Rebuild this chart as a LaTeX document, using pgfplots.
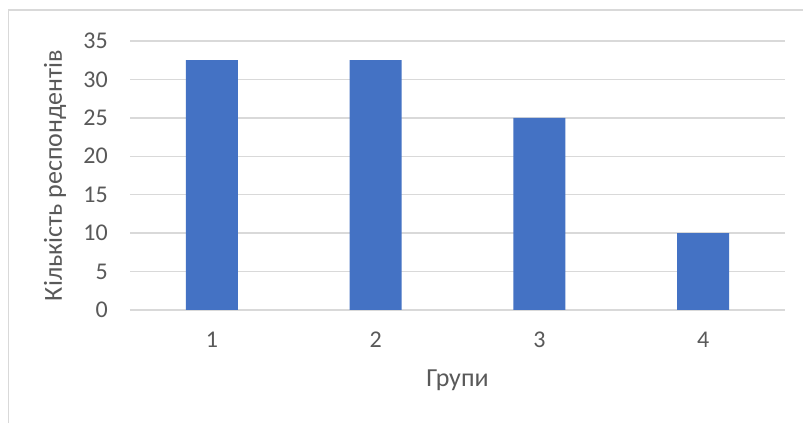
\documentclass[border=0pt]{standalone}
\usepackage{fontspec}
\setmainfont{Carlito}
\usepackage{pgfplots}
\pgfplotsset{compat=1.18}
\definecolor{barblue}{HTML}{4472C4}
\definecolor{gridgray}{HTML}{D9D9D9}
\definecolor{txtgray}{HTML}{595959}
\begin{document}
\begin{tikzpicture}[x=1pt,y=1pt]
\path[use as bounding box, fill=white] (0pt,0pt) rectangle (803pt,423pt);
\draw[gridgray, line width=1.5pt] (8.5pt,0pt) -- (8.5pt,413pt) -- (803pt,413pt);
\begin{axis}[
  at={(130pt,113pt)}, anchor=south west,
  width=655pt, height=269pt, scale only axis,
  xmin=0.5, xmax=4.5, ymin=0, ymax=35,
  ytick={0,5,...,35}, xtick={1,2,3,4},
  ymajorgrids, grid style={gridgray, line width=1.3pt},
  axis line style={draw=none}, major tick length=0pt,
  tick label style={font=\fontsize{24}{28}\selectfont, text=txtgray, inner sep=0pt},
  /pgf/number format/assume math mode=true,
  yticklabel style={anchor=east, xshift=-22pt},
  xticklabel style={anchor=center, yshift=-29.5pt},
  xlabel={Групи}, ylabel={Кількість респондентів},
  label style={font=\fontsize{26}{30}\selectfont, text=txtgray},
  xlabel style={at={(axis description cs:0.5,0)}, anchor=center, yshift=-70pt},
  ylabel style={at={(axis description cs:0,0.5)}, anchor=center, yshift=75pt},
  ybar, bar width=52pt,
]
\addplot[fill=barblue, draw=none] coordinates {(1,32.5) (2,32.5) (3,25) (4,10)};
\end{axis}
\end{tikzpicture}
\end{document}
